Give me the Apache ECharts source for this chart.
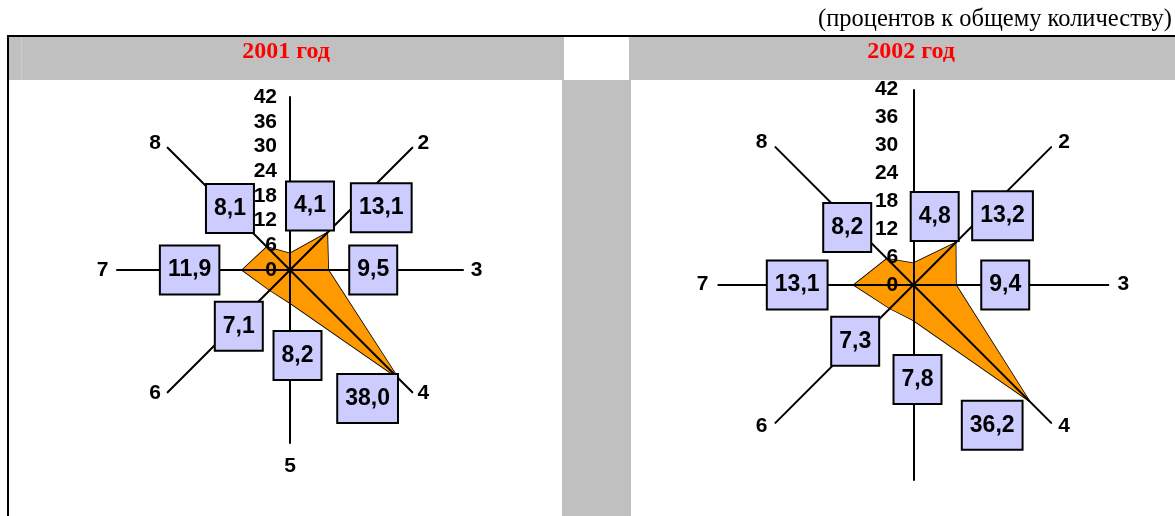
<!DOCTYPE html>
<html>
<head>
<meta charset="utf-8">
<script src="https://cdn.jsdelivr.net/npm/echarts@6/dist/echarts.min.js"></script>
<style>
  html, body { margin: 0; padding: 0; background: #fff; }
  #chart { width: 1175px; height: 516px; }
</style>
</head>
<body>
<div id="chart"></div>
<script>
  // оси по часовой стрелке, начиная с верхней
  const axes = ['1', '2', '3', '4', '5', '6', '7', '8'];
  const values2001 = [4.1, 13.1, 9.5, 38.0, 8.2, 7.1, 11.9, 8.1];
  const values2002 = [4.8, 13.2, 9.4, 36.2, 7.8, 7.3, 13.1, 8.2];
  const ticks = [0, 6, 12, 18, 24, 30, 36, 42];
  const years = ['2001 год', '2002 год'];
  const unitNote = '(процентов к общему количеству)';

  // предел осей лучей (чуть больше 42, как на рисунке)
  const RMAX = 43;
  // radar в echarts идёт против часовой, поэтому переставляем оси
  const ccw = [0, 7, 6, 5, 4, 3, 2, 1];

  const numFont = { fontFamily: 'Liberation Sans', fontWeight: 'bold', fontSize: 21, color: '#000' };
  const boxFont = { fontFamily: 'Liberation Sans', fontWeight: 'bold', fontSize: 23, color: '#000' };

  // раскладка двух диаграмм
  const panels = [
    {
      center: [290, 270], radius: 173, tickTop: 97, tickMargin: 13,
      boxOff: [[20, -47.5], [54, -25], [45, 0], [-30.5, 20.5], [7.5, 52.5], [-31, 36], [-52.5, 0], [-37, -38.5]],
      nameOff: [null, [11, -4.4], [13.7, 0], [11, 1], [0, 23.7], [-12.7, 1], [-14.3, 0], [-12.7, -4.4]]
    },
    {
      center: [913.3, 285], radius: 195, tickTop: 89.3, tickMargin: 15,
      boxOff: [[21.4, -46.7], [46.9, -27], [49.3, 0], [-37.2, 24.2], [4.2, 59.1], [-34.7, 32.9], [-56.7, 0], [-39.8, -31.2]],
      nameOff: [null, [12.8, -5.4], [15, -1], [12.8, 3.8], [0, 60], [-13.7, 3.8], [-15.6, -1], [-13.7, -4.8]]
    }
  ];
  const allValues = [values2001, values2002];

  const option = {
    animation: false,
    radar: [], polar: [], angleAxis: [], radiusAxis: [],
    grid: [], xAxis: [], yAxis: [], series: [],
    graphic: {
      elements: [
        { type: 'rect', z: 0, silent: true, shape: { x: 7, y: 35, width: 1168, height: 2 }, style: { fill: '#000' } },
        { type: 'rect', z: 0, silent: true, shape: { x: 7, y: 35, width: 2, height: 481 }, style: { fill: '#000' } },
        { type: 'rect', z: 0, silent: true, shape: { x: 9, y: 37, width: 555, height: 43 }, style: { fill: '#C0C0C0' } },
        { type: 'rect', z: 0, silent: true, shape: { x: 629, y: 37, width: 546, height: 43 }, style: { fill: '#C0C0C0' } },
        { type: 'rect', z: 0, silent: true, shape: { x: 562, y: 80, width: 69, height: 436 }, style: { fill: '#C0C0C0' } },
        { type: 'rect', z: 0, silent: true, shape: { x: 21, y: 37, width: 1, height: 43 }, style: { fill: '#CDCDCD' } },
        { type: 'text', z: 1, silent: true, style: { x: 286, y: 52, text: years[0], textAlign: 'center', textVerticalAlign: 'middle', font: 'bold 24px "Liberation Serif"', fill: '#FF0000' } },
        { type: 'text', z: 1, silent: true, style: { x: 911, y: 52, text: years[1], textAlign: 'center', textVerticalAlign: 'middle', font: 'bold 24px "Liberation Serif"', fill: '#FF0000' } },
        { type: 'text', z: 1, silent: true, style: { x: 1172, y: 19.5, text: unitNote, textAlign: 'right', textVerticalAlign: 'middle', font: '24.5px "Liberation Serif"', fill: '#000' } }
      ]
    }
  };

  panels.forEach(function (p, idx) {
    const values = allValues[idx];

    option.radar.push({
      center: p.center,
      radius: p.radius,
      startAngle: 90,
      z: 2,
      indicator: ccw.map(function (i) { return { name: axes[i], min: 0, max: RMAX }; }),
      axisName: { show: false },
      splitLine: { show: false },
      splitArea: { show: false },
      axisTick: { show: false },
      axisLabel: { show: false },
      axisLine: { lineStyle: { color: '#000', width: 2 } }
    });

    // полярная система для подписей значений и номеров осей
    option.polar.push({ center: p.center, radius: p.radius });
    option.angleAxis.push({ polarIndex: idx, type: 'value', min: 0, max: 360, startAngle: 90, clockwise: true, show: false });
    option.radiusAxis.push({ polarIndex: idx, type: 'value', min: 0, max: RMAX, show: false });

    // шкала 0..42 слева от вертикальной оси
    option.grid.push({
      left: p.center[0], top: p.tickTop, width: 10, height: p.center[1] - p.tickTop,
      outerBoundsMode: 'none'
    });
    option.xAxis.push({ gridIndex: idx, type: 'value', show: false });
    option.yAxis.push({
      gridIndex: idx, type: 'value', z: 3,
      min: ticks[0], max: ticks[ticks.length - 1], interval: ticks[1] - ticks[0],
      axisLine: { show: false }, axisTick: { show: false }, splitLine: { show: false },
      axisLabel: Object.assign({ margin: p.tickMargin }, numFont)
    });

    option.series.push({
      type: 'radar',
      radarIndex: idx,
      z: 1,
      silent: true,
      symbol: 'none',
      lineStyle: { color: '#000', width: 1.6 },
      areaStyle: { color: '#FF9900', opacity: 1 },
      data: [{ value: ccw.map(function (i) { return values[i]; }) }]
    });

    option.series.push({
      type: 'scatter',
      coordinateSystem: 'polar',
      polarIndex: idx,
      z: 5,
      silent: true,
      symbolSize: 1,
      itemStyle: { color: 'rgba(0,0,0,0)', opacity: 1 },
      label: Object.assign({
        show: true,
        position: 'inside',
        backgroundColor: '#CCCCFF',
        borderColor: '#000',
        borderWidth: 2,
        padding: [12, 7],
        lineHeight: 23,
        formatter: function (d) { return d.value[0].toFixed(1).replace('.', ','); }
      }, boxFont),
      data: values.map(function (v, k) {
        return { value: [v, k * 45], label: { offset: p.boxOff[k] } };
      })
    });

    option.series.push({
      type: 'scatter',
      coordinateSystem: 'polar',
      polarIndex: idx,
      z: 4,
      silent: true,
      symbolSize: 1,
      itemStyle: { color: 'rgba(0,0,0,0)', opacity: 1 },
      label: Object.assign({ show: true, position: 'inside', formatter: '{b}' }, numFont),
      data: axes.map(function (n, k) {
        return { name: n, value: [RMAX, k * 45], label: { offset: p.nameOff[k] } };
      }).filter(function (d, k) { return p.nameOff[k] !== null; })
    });
  });

  const chart = echarts.init(document.getElementById('chart'));
  chart.setOption(option);
</script>
</body>
</html>
